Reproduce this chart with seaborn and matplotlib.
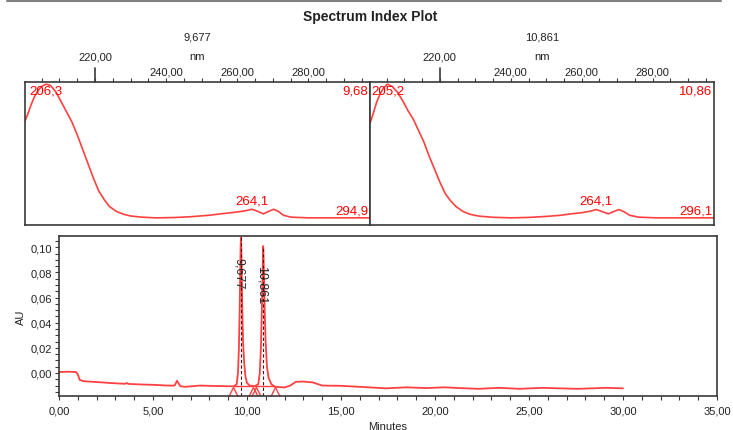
import numpy as np
import pandas as pd
import matplotlib
matplotlib.use("Agg")
import matplotlib.pyplot as plt
import seaborn as sns
from matplotlib.ticker import MultipleLocator, FuncFormatter
from matplotlib.lines import Line2D

# --- spectrum at 9.677 min (wavelength nm, relative absorbance)
spec1_wl = [200.0, 201.0, 202.0, 203.0, 204.0, 205.0, 206.3, 207.5, 209.0, 210.5,
            212.0, 213.5, 215.0, 216.5, 218.0, 219.5, 221.0, 222.5, 224.0, 226.0,
            228.0, 230.0, 233.0, 237.0, 242.0, 247.0, 252.0, 256.0, 259.0, 262.0,
            264.1, 265.5, 267.3, 268.8, 270.2, 271.5, 273.0, 275.0, 280.0, 290.0, 298.0]
spec1_abs = [0.71, 0.77, 0.84, 0.90, 0.94, 0.97, 0.985, 0.975, 0.93, 0.86,
             0.79, 0.72, 0.63, 0.53, 0.43, 0.33, 0.24, 0.18, 0.13, 0.095,
             0.075, 0.063, 0.055, 0.050, 0.052, 0.058, 0.068, 0.080, 0.088, 0.098,
             0.110, 0.098, 0.078, 0.095, 0.110, 0.095, 0.068, 0.055, 0.050, 0.050, 0.050]

# --- spectrum at 10.861 min
spec2_wl = [200.3, 201.2, 202.2, 203.2, 204.2, 205.2, 206.5, 208.0, 209.5, 211.0,
            212.5, 214.0, 215.5, 217.0, 218.5, 220.0, 221.5, 223.0, 224.5, 226.5,
            228.5, 231.0, 235.0, 240.0, 245.0, 250.0, 254.0, 257.0, 260.0, 262.5,
            264.1, 265.5, 267.5, 269.0, 270.5, 272.0, 273.5, 276.0, 281.0, 290.0, 298.0]
spec2_abs = [0.71, 0.78, 0.86, 0.92, 0.96, 0.985, 0.97, 0.93, 0.87, 0.80,
             0.74, 0.66, 0.58, 0.48, 0.39, 0.30, 0.22, 0.17, 0.13, 0.095,
             0.075, 0.062, 0.054, 0.050, 0.053, 0.060, 0.068, 0.078, 0.086, 0.097,
             0.108, 0.096, 0.078, 0.094, 0.108, 0.092, 0.068, 0.055, 0.050, 0.050, 0.050]

spec_titles = ["9,677", "10,861"]
spec_corner = ["9,68", "10,86"]
spec_max_wl = [206.3, 205.2]
spec_max_lbl = ["206,3", "205,2"]
spec_peak_wl = [264.1, 264.1]
spec_peak_lbl = ["264,1", "264,1"]
spec_end_lbl = ["294,9", "296,1"]

# --- chromatogram (minutes, AU)
chrom_time = [0.0, 0.5, 0.9, 1.0, 1.1, 1.3, 2.0, 3.0, 3.5, 3.6, 3.7, 4.5, 5.0, 5.8,
              6.15, 6.28, 6.45, 6.7, 7.5, 8.5, 9.3, 9.45, 9.52, 9.57, 9.61, 9.64,
              9.66, 9.677, 9.695, 9.72, 9.75, 9.79, 9.85, 9.92, 10.0, 10.15, 10.4,
              10.6, 10.68, 10.74, 10.79, 10.83, 10.85, 10.861, 10.875, 10.90, 10.94,
              10.99, 11.06, 11.15, 11.3, 11.5, 12.0, 12.3, 12.6, 13.0, 13.5, 14.0,
              15.0, 16.0, 17.4, 18.5, 19.5, 20.5, 21.3, 22.3, 23.4, 24.5, 25.7,
              26.6, 27.6, 29.1, 30.0]
chrom_au = [0.0008, 0.0010, 0.0008, -0.0010, -0.0055, -0.0065, -0.0072, -0.0082,
            -0.0086, -0.0080, -0.0087, -0.0092, -0.0094, -0.0100, -0.0100, -0.0062,
            -0.0105, -0.0110, -0.0100, -0.0104, -0.0106, -0.0090, 0.0000, 0.0200,
            0.0500, 0.0800, 0.1000, 0.1080, 0.1000, 0.0800, 0.0500, 0.0250, 0.0080,
            -0.0030, -0.0080, -0.0100, -0.0105, -0.0090, 0.0000, 0.0200, 0.0500,
            0.0800, 0.0950, 0.1010, 0.0950, 0.0800, 0.0500, 0.0250, 0.0050, -0.0040,
            -0.0090, -0.0110, -0.0115, -0.0100, -0.0070, -0.0068, -0.0075, -0.0100,
            -0.0102, -0.0110, -0.0122, -0.0114, -0.0120, -0.0114, -0.0120, -0.0126,
            -0.0118, -0.0126, -0.0118, -0.0122, -0.0126, -0.0118, -0.0122]

peak_rt = [9.677, 10.861]
peak_top = [0.108, 0.101]
peak_lbl = ["9,677", "10,861"]
peak_lbl_au = [0.080, 0.071]
peak_bounds = [9.27, 10.34, 10.5, 11.5]
peak_baseline = -0.0104

sns.set_theme(style="ticks")
plt.rcParams["font.family"] = ["Liberation Sans", "DejaVu Sans"]

RED = "#ff4040"
FRAME = "#3a3a3a"
TXT = "#222222"
FS = 8

W, H = 733, 431
fig = plt.figure(figsize=(W / 100, H / 100), dpi=100)


def box(x0, y0, x1, y1):
    return [x0 / W, 1 - y1 / H, (x1 - x0) / W, (y1 - y0) / H]


comma2 = FuncFormatter(lambda v, p: f"{v:.2f}".replace(".", ","))

fig.text(370 / W, 1 - 17 / H, "Spectrum Index Plot", fontsize=10, fontweight="bold",
         ha="center", va="center", color=TXT)
fig.add_artist(Line2D([7 / W, 721 / W], [1 - 2 / H, 1 - 2 / H], color="#808080", lw=1.5))

spectra = [(spec1_wl, spec1_abs), (spec2_wl, spec2_abs)]
panels = [box(25, 83, 370, 226), box(370, 83, 714, 226)]
for i, (wl, ab) in enumerate(spectra):
    ax = fig.add_axes(panels[i])
    df = pd.DataFrame({"nm": wl, "abs": ab})
    sns.lineplot(data=df, x="nm", y="abs", ax=ax, color=RED, lw=1.2, estimator=None)
    ax.set_xlim(200.3, 297.3)
    ax.set_ylim(0, 1)
    ax.set_xlabel("")
    ax.set_ylabel("")
    ax.set_yticks([])
    ax.xaxis.tick_top()
    ax.set_xticks([220, 240, 260, 280])
    ax.xaxis.set_major_formatter(comma2)
    ax.xaxis.set_minor_locator(MultipleLocator(5))
    ax.tick_params(axis="x", which="both", direction="out", top=True, bottom=False,
                   length=3, width=0.8, color=FRAME, labelsize=FS, labelcolor=TXT, pad=1.2)
    # the 220 tick is drawn long with its label raised
    ax.xaxis.get_major_ticks()[0].set_pad(11.5)
    ax.plot([220, 220], [1, 1 + 14 / 143], transform=ax.get_xaxis_transform(),
            clip_on=False, color=FRAME, lw=1.2)
    for s in ax.spines.values():
        s.set_color(FRAME)
        s.set_linewidth(1.2)
    ax.text(0.5, 1.32, spec_titles[i], transform=ax.transAxes, ha="center", va="center",
            fontsize=FS, color=TXT)
    ax.text(0.5, 1.18, "nm", transform=ax.transAxes, ha="center", va="center",
            fontsize=FS, color=TXT)
    ax.text(spec_max_wl[i], 0.94, spec_max_lbl[i], ha="center", va="center",
            fontsize=9.5, color="red")
    ax.text(0.995, 0.94, spec_corner[i], transform=ax.transAxes, ha="right", va="center",
            fontsize=9.5, color="red")
    ax.text(spec_peak_wl[i], 0.17, spec_peak_lbl[i], ha="center", va="center",
            fontsize=9.5, color="red")
    ax.text(0.995, 0.10, spec_end_lbl[i], transform=ax.transAxes, ha="right", va="center",
            fontsize=9.5, color="red")

# --- chromatogram
ax = fig.add_axes(box(59, 237, 717, 397))
cdf = pd.DataFrame({"Minutes": chrom_time, "AU": chrom_au})
sns.lineplot(data=cdf, x="Minutes", y="AU", ax=ax, color=RED, lw=1.3, estimator=None)
ax.hlines(peak_baseline, peak_bounds[0], peak_bounds[-1], color=RED, lw=1.0)
ax.vlines(peak_rt, -0.0183, peak_top, color="#5a1010", lw=0.8, linestyles=(0, (3, 2)))
ax.plot(peak_bounds, [-0.0158] * len(peak_bounds), ls="none", marker="^", ms=8,
        mfc="none", mec=RED, mew=1.0)
for rt, lbl, y in zip(peak_rt, peak_lbl, peak_lbl_au):
    ax.text(rt - 0.1, y, lbl, rotation=270, ha="center", va="center", fontsize=9,
            color=TXT)
ax.set_xlim(0, 35)
ax.set_ylim(-0.0183, 0.109)
ax.set_xticks(np.arange(0, 36, 5))
ax.set_yticks([0.0, 0.02, 0.04, 0.06, 0.08, 0.10])
ax.xaxis.set_minor_locator(MultipleLocator(1))
ax.yaxis.set_minor_locator(MultipleLocator(0.005))
ax.xaxis.set_major_formatter(comma2)
ax.yaxis.set_major_formatter(comma2)
ax.tick_params(axis="both", which="both", direction="out", length=3, width=0.8,
               color=FRAME, labelsize=FS, labelcolor=TXT)
ax.tick_params(axis="x", pad=4)
ax.tick_params(axis="y", pad=2)
ax.set_xlabel("Minutes", fontsize=FS, color=TXT, labelpad=4)
ax.set_ylabel("AU", fontsize=FS, color=TXT, labelpad=3)
for s in ax.spines.values():
    s.set_color(FRAME)
    s.set_linewidth(1.2)

fig.savefig("out.png", dpi=100)
